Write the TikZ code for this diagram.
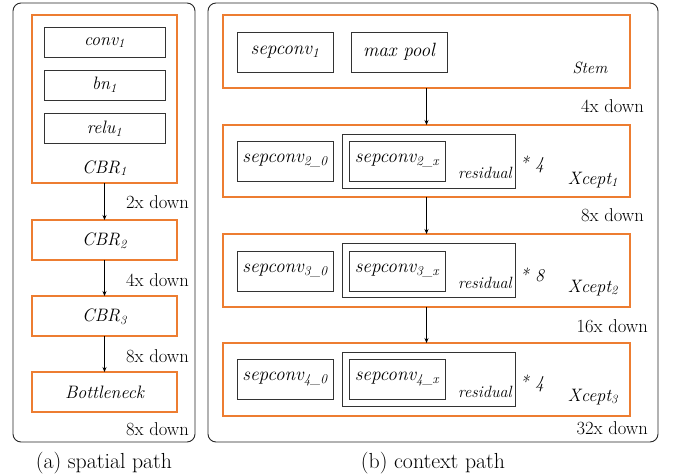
\documentclass[tikz,border=0pt]{standalone}
\usepackage{fontspec}
\usetikzlibrary{arrows.meta}
\definecolor{orng}{HTML}{ED7D31}
\begin{document}
\begin{tikzpicture}[x=1pt,y=-1pt,
  panel/.style={draw=black!85, line width=0.9pt, rounded corners=8pt, inner sep=0, outer sep=0},
  stage/.style={draw=orng, line width=2.6pt, inner sep=0, outer sep=0},
  op/.style={draw=black!80, line width=0.9pt, inner sep=0, outer sep=0, minimum width=96, minimum height=40, font=\fontsize{19.2}{21}\selectfont\itshape},
  lop/.style={draw=black!80, line width=0.9pt, inner sep=0, outer sep=0, minimum width=121, minimum height=30, font=\fontsize{18}{20}\selectfont\itshape},
  res/.style={draw=black!80, line width=0.9pt, inner sep=0, outer sep=0, minimum width=173, minimum height=54},
  it/.style={inner sep=0, font=\fontsize{18}{20}\selectfont\itshape},
  small/.style={inner sep=0, font=\fontsize{16.3}{18}\selectfont\itshape},
  down/.style={inner sep=0, anchor=east, font=\fontsize{18.6}{20}\selectfont},
  captxt/.style={inner sep=0, font=\fontsize{21.8}{24}\selectfont},
  arr/.style={-{Stealth[length=5pt,width=4pt]}, line width=0.7pt}
]
\useasboundingbox (0,0) rectangle (673,476);

% ---------- (a) spatial path ----------
\node[panel, minimum width=182, minimum height=439] (lp) at (104,222.5) {};
\node[stage, minimum width=145, minimum height=168] (cbr1) at (104.5,99) {};
\node[lop] (conv1) at (104.5,42.5) {conv\textsubscript{1}};
\node[lop] (bn1) at (104.5,85) {bn\textsubscript{1}};
\node[lop] (relu1) at (104.5,128.5) {relu\textsubscript{1}};
\node[it] (cbr1l) at (104.5,168) {CBR\textsubscript{1}};
\node[stage, minimum width=145, minimum height=40] (cbr2) at (104.5,240) {};
\node[it] (cbr2l) at (104.5,241) {CBR\textsubscript{2}};
\node[stage, minimum width=145, minimum height=40] (cbr3) at (104.5,316) {};
\node[it] (cbr3l) at (104.5,317) {CBR\textsubscript{3}};
\node[stage, minimum width=145, minimum height=40] (bott) at (104.5,392) {};
\node[it] (bottl) at (104.5,392.5) {Bottleneck};

\draw[arr] (cbr1.south) -- (cbr2.north);
\draw[arr] (cbr2.south) -- (cbr3.north);
\draw[arr] (cbr3.south) -- (bott.north);

\node[down] (d1) at (189,202) {2x down};
\node[down] (d2) at (189,280) {4x down};
\node[down] (d3) at (189,356) {8x down};
\node[down] (d4) at (189,429) {8x down};

\node[captxt] (capa) at (104,463) {(a) spatial path};

% ---------- (b) context path ----------
\node[panel, minimum width=450, minimum height=439] (rp) at (433,222.5) {};

% Stem
\node[stage, minimum width=407, minimum height=73] (stem) at (426.5,51.5) {};
\node[op] (sc1) at (285,52) {sepconv\textsubscript{1}};
\node[op] (mp) at (399,52) {max pool};
\node[small] (steml) at (590,68) {Stem};

% Xcept1
\node[stage, minimum width=407, minimum height=72] (x1) at (426.5,161) {};
\node[op] (sc20) at (285,161) {sepconv\textsubscript{2\_0}};
\node[res] (r1) at (428.5,161) {};
\node[op] (sc2x) at (397,161) {sepconv\textsubscript{2\_x}};
\node[small] (r1l) at (485,173) {residual};
\node[it] (m1) at (532,164) {* 4};
\node[it] (x1l) at (593,180) {Xcept\textsubscript{1}};

% Xcept2
\node[stage, minimum width=407, minimum height=73] (x2) at (426.5,270.5) {};
\node[op] (sc30) at (285,271) {sepconv\textsubscript{3\_0}};
\node[res] (r2) at (428.5,270) {};
\node[op] (sc3x) at (397,271) {sepconv\textsubscript{3\_x}};
\node[small] (r2l) at (485,283) {residual};
\node[it] (m2) at (532,275) {* 8};
\node[it] (x2l) at (593,288) {Xcept\textsubscript{2}};

% Xcept3
\node[stage, minimum width=407, minimum height=73] (x3) at (426.5,379.5) {};
\node[op] (sc40) at (285,379) {sepconv\textsubscript{4\_0}};
\node[res] (r3) at (428.5,379.5) {};
\node[op] (sc4x) at (397,379) {sepconv\textsubscript{4\_x}};
\node[small] (r3l) at (485,392) {residual};
\node[it] (m3) at (532,383) {* 4};
\node[it] (x3l) at (593,397) {Xcept\textsubscript{3}};

\draw[arr] (stem.south) -- (x1.north);
\draw[arr] (x1.south) -- (x2.north);
\draw[arr] (x2.south) -- (x3.north);

\node[down] (e1) at (644,106) {4x down};
\node[down] (e2) at (644,215) {8x down};
\node[down] (e3) at (648,326) {16x down};
\node[down] (e4) at (648,428) {32x down};

\node[captxt] (capb) at (433,463) {(b) context path};
\end{tikzpicture}
\end{document}
